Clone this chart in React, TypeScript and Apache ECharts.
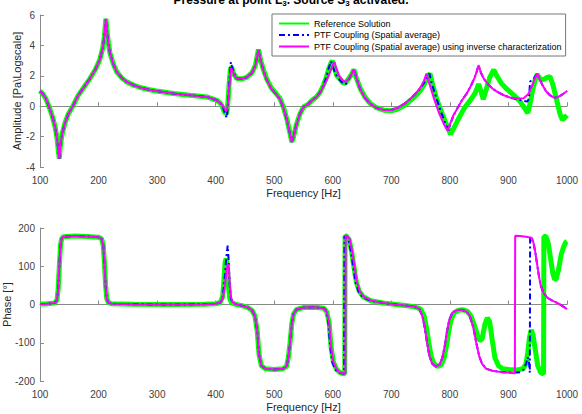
import React, { useEffect, useRef } from "react";
import * as echarts from "echarts";

// ---------- Amplitude (top) ----------
const ampSharedF = [100, 105, 110, 117, 122, 126, 129, 131.5, 133, 135, 138, 142.7, 148, 157, 165, 175, 185, 195, 202, 207, 210, 212.5, 214, 217, 219.5, 225, 231, 240, 248, 260, 271, 285, 299, 328, 356, 385, 402, 408];
const ampSharedV = [1.0, 0.8, 0.5, -0.2, -0.8, -1.4, -2.1, -3.0, -3.45, -2.5, -1.8, -1.1, -0.55, 0.07, 0.7, 1.25, 1.8, 2.45, 3.05, 3.8, 4.6, 5.75, 5.1, 4.1, 3.5, 2.8, 2.26, 1.85, 1.6, 1.38, 1.23, 1.1, 1.0, 0.83, 0.72, 0.61, 0.39, 0.2];

const ampRefF = [411, 414, 417, 419, 421, 423, 425, 427, 430, 436, 445, 453, 462, 468, 473, 477, 482, 487, 495, 503, 510, 516, 522, 527, 530, 533, 538, 544, 550, 557, 565, 572, 578, 584, 589, 593, 597, 599, 602, 607, 612, 617, 621, 627, 632, 636, 640, 647, 655, 664, 675, 687, 700, 710, 722, 733, 742, 750, 757, 763, 766, 770, 778, 786, 795, 801, 806, 815, 825, 835, 843, 849, 853, 857, 862, 868, 875, 880, 888, 898, 910, 920, 927, 933, 937, 941, 946, 949, 954, 960, 966, 971, 976, 983, 988, 992, 996, 1000];
const ampRefV = [0.0, -0.3, -0.5, -0.45, 0.3, 1.5, 2.4, 2.6, 2.2, 1.82, 1.8, 1.9, 2.2, 2.7, 3.73, 3.0, 2.35, 1.82, 1.2, 0.85, 0.5, -0.1, -0.9, -1.8, -2.35, -2.0, -1.2, -0.5, -0.05, 0.1, 0.4, 0.6, 0.9, 1.38, 1.9, 2.45, 2.85, 3.0, 2.6, 2.0, 1.8, 1.55, 1.5, 1.8, 2.1, 2.41, 1.9, 1.16, 0.6, 0.18, -0.1, -0.26, -0.3, -0.2, 0.05, 0.39, 0.7, 1.05, 1.5, 2.0, 2.15, 1.5, 0.4, -0.4, -1.3, -1.84, -1.5, -0.8, -0.1, 0.4, 0.85, 1.45, 1.0, 0.45, 1.1, 1.9, 2.4, 2.0, 1.5, 1.1, 0.7, 0.3, -0.1, -0.45, 0.2, 1.0, 1.8, 2.1, 1.8, 1.75, 1.9, 1.95, 1.4, 0.3, -0.5, -0.9, -0.75, -0.6];

const ampPtfF = [411, 414, 417, 419, 421, 424, 426, 428, 432, 436, 445, 453, 462, 468, 473, 477, 482, 487, 495, 503, 510, 516, 522, 527, 530, 533, 538, 544, 550, 557, 565, 572, 578, 584, 589, 593, 597, 600, 605, 612, 618, 622, 627, 632, 636, 640, 647, 655, 664, 675, 687, 700, 710, 722, 733, 742, 750, 757, 762, 765, 769, 778, 786, 793, 798, 800, 806, 812, 820, 829, 836, 842, 846, 849, 853, 858, 865, 873, 881, 892, 903, 915, 926, 932, 935, 937, 940, 944, 949, 953, 958, 964, 970, 977, 983, 989, 995, 1000];
const ampPtfV = [0.05, -0.25, -0.6, -0.75, 0.1, 2.0, 2.9, 2.6, 2.1, 1.82, 1.8, 1.9, 2.2, 2.7, 3.7, 3.0, 2.3, 1.75, 1.15, 0.8, 0.45, -0.15, -0.95, -1.85, -2.35, -2.0, -1.2, -0.5, -0.05, 0.1, 0.4, 0.6, 0.9, 1.35, 1.9, 2.5, 2.95, 2.6, 2.1, 1.7, 1.5, 1.45, 1.75, 2.1, 2.41, 1.9, 1.1, 0.55, 0.15, -0.12, -0.25, -0.25, -0.12, 0.15, 0.5, 0.85, 1.2, 1.6, 1.9, 2.15, 1.5, 0.4, -0.5, -1.2, -1.6, -1.3, -0.6, -0.2, 0.35, 0.85, 1.35, 1.85, 2.3, 2.7, 2.2, 1.8, 1.45, 1.15, 0.94, 0.72, 0.57, 0.45, 0.35, 0.3, 0.5, 1.6, 1.75, 1.85, 2.15, 1.8, 1.4, 1.0, 0.75, 0.57, 0.57, 0.7, 0.85, 1.0];

const ampInvF = [411, 414, 417, 419, 421, 424, 426, 428, 432, 436, 445, 453, 462, 468, 473, 477, 482, 487, 495, 503, 510, 516, 522, 527, 530, 533, 538, 544, 550, 557, 565, 572, 578, 584, 590, 595, 600, 603, 606, 611, 617, 622, 627, 632, 636, 640, 647, 655, 664, 675, 687, 700, 710, 722, 733, 742, 750, 756, 760, 764, 772, 782, 790, 796, 800, 806, 812, 820, 829, 836, 842, 846, 849, 853, 858, 865, 873, 881, 892, 903, 915, 926, 934, 940, 945, 949, 953, 958, 964, 970, 977, 983, 989, 995, 1000];
const ampInvV = [0.1, -0.1, -0.3, -0.3, 0.2, 1.6, 2.5, 2.4, 2.0, 1.82, 1.8, 1.9, 2.2, 2.7, 3.7, 3.0, 2.3, 1.75, 1.15, 0.8, 0.45, -0.15, -0.95, -1.85, -2.35, -2.0, -1.2, -0.5, -0.05, 0.1, 0.4, 0.6, 0.9, 1.3, 1.75, 2.2, 2.7, 2.9, 2.5, 2.0, 1.7, 1.6, 1.8, 2.1, 2.41, 1.9, 1.1, 0.55, 0.15, -0.12, -0.25, -0.25, -0.12, 0.15, 0.5, 0.85, 1.25, 1.7, 2.15, 1.6, 0.6, -0.5, -1.2, -1.6, -1.2, -0.6, -0.2, 0.35, 0.85, 1.35, 1.85, 2.3, 2.7, 2.2, 1.8, 1.45, 1.15, 0.94, 0.72, 0.57, 0.5, 0.52, 0.8, 1.3, 1.8, 2.15, 1.8, 1.4, 1.0, 0.75, 0.57, 0.57, 0.7, 0.85, 1.0];

// ---------- Phase (bottom) ----------
const phSharedF = [100, 110, 120, 126, 129, 131, 133, 135, 137, 140, 160, 180, 200, 205, 208, 210, 212, 214, 217, 222, 260, 320, 380, 400, 405];
const phSharedV = [1, 1.5, 3, 5, 12, 40, 100, 155, 172, 177, 179, 178, 176, 172, 155, 110, 50, 15, 5, 2, 0.5, 0, 0.5, 2, 4];

const phMidF = [435, 445, 455, 462, 467, 471, 474, 478, 485, 500, 515, 521, 524, 527, 530, 533, 538, 550, 570, 585];
const phMidV = [0, -3, -8, -15, -30, -70, -130, -160, -168, -170, -168, -162, -140, -100, -50, -25, -13, -8, -7, -10];

const phRefF = [408, 412, 414, 416, 418, 420, 422, 424, 427, ...phMidF, 590, 594, 597, 601, 606, 612, 619, 620.5, 621, 624, 628, 632, 636, 640, 645, 652, 665, 690, 720, 740, 750, 756, 760, 764, 768, 773, 779, 785, 790, 794, 798, 802, 807, 815, 823, 830, 836, 842, 847, 851, 855, 860, 864, 868, 872, 877, 883, 890, 900, 915, 925, 930, 933, 936, 939, 942, 946, 950, 955, 960, 960.5, 964, 968, 972, 976, 979, 982, 986, 990, 994, 998, 1000];
const phRefV = [6, 20, 60, 110, 120, 95, 45, 15, 5, ...phMidV, -20, -50, -110, -150, -168, -178, -181, -181, 180, 178, 170, 140, 100, 60, 35, 20, 10, 3, -2, -6, -12, -30, -60, -100, -135, -155, -162, -158, -140, -110, -70, -40, -22, -15, -14, -18, -30, -55, -80, -95, -90, -50, -35, -45, -90, -140, -160, -168, -170, -171, -168, -155, -125, -85, -66, -80, -120, -160, -178, -182, 178, 178, 160, 120, 80, 65, 68, 95, 130, 150, 163, 165];

const phPtfF = [408, 412, 415, 418, 420.5, 422, 424, 426, 429, ...phMidF, 588, 592, 595, 599, 604, 610, 619.5, 620, 623, 627, 631, 635, 639, 644, 651, 664, 690, 720, 738, 748, 753, 757, 761, 765, 770, 776, 782, 787, 791, 795, 799, 804, 812, 820, 828, 834, 840, 845, 850, 855, 862, 872, 890, 905, 915, 920, 926, 930, 933, 935, 936.5, 937, 940, 943, 946, 949, 952, 955, 960, 967, 975, 985, 993, 1000];
const phPtfV = [5, 20, 60, 120, 154, 120, 50, 15, 5, ...phMidV, -15, -40, -100, -150, -170, -178, -181, 178, 177, 168, 138, 98, 58, 34, 19, 10, 3, -2, -5, -12, -30, -60, -100, -135, -155, -162, -158, -140, -110, -70, -40, -22, -15, -14, -18, -30, -60, -100, -135, -155, -168, -173, -177, -178, -178, -177, -170, -155, -138, -150, -178, 175, 172, 160, 135, 105, 75, 50, 30, 17, 10, 3, -5, -12];

const phInvF = [408, 412, 415, 418, 420, 422, 424, 426, 429, ...phMidF, 590, 594, 597, 601, 606, 612, 620, 621.5, 622, 625, 629, 633, 637, 641, 646, 653, 666, 690, 720, 740, 748, 753, 757, 761, 765, 770, 776, 782, 787, 791, 795, 799, 804, 812, 820, 828, 834, 840, 845, 850, 855, 862, 872, 890, 905, 911, 911.5, 920, 930, 937, 940, 943, 946, 949, 952, 955, 960, 967, 975, 985, 993, 1000];
const phInvV = [5, 15, 40, 80, 100, 105, 60, 20, 6, ...phMidV, -20, -50, -110, -150, -168, -178, -181, -181, 180, 178, 170, 140, 100, 60, 35, 20, 10, 3, -2, -5, -12, -30, -60, -100, -135, -155, -162, -158, -140, -110, -70, -40, -22, -15, -14, -18, -30, -60, -100, -135, -155, -168, -173, -177, -179, -180, 180, 179, 177, 175, 174, 160, 135, 105, 75, 50, 30, 17, 10, 3, -5, -12];

const seriesNames = [
  "Reference Solution",
  "PTF Coupling (Spatial average)",
  "PTF Coupling (Spatial average) using inverse characterization",
];
const xTicks = { min: 100, max: 1000, interval: 100 };

const zip = (fs: number[], vs: number[]) => fs.map((f, i) => [f, vs[i]]);

export default function App() {
  const ref = useRef<HTMLDivElement>(null);
  useEffect(() => {
    if (!ref.current) return;
    const chart = echarts.init(ref.current, null, { renderer: "svg" });
    const font = "Liberation Sans, Arial, sans-serif";
    const axisCommon = {
      axisLine: { show: true, lineStyle: { color: "#8a8a8a", width: 1 } },
      axisTick: { show: true, inside: true, length: 4, lineStyle: { color: "#8a8a8a" } },
      axisLabel: { color: "#404040", fontSize: 10, fontFamily: font, formatter: (v: number) => String(v) },
      splitLine: { show: false },
      nameMoveOverlap: false,
      nameTextStyle: { color: "#262626", fontSize: 11, fontFamily: font },
    };
    const green = { color: "#00ff00", width: 5, type: "solid" };
    const blue = { color: "#0000ff", width: 2, type: [6, 3, 2, 3] };
    const magenta = { color: "#ff00ff", width: 2, type: "solid" };
    const mk = (name: string, data: any[], ls: any, idx: number) => ({
      name,
      type: "line",
      data,
      xAxisIndex: idx,
      yAxisIndex: idx,
      symbol: "none",
      showSymbol: false,
      lineStyle: ls,
      itemStyle: { color: ls.color },
      clip: true,
    });
    chart.setOption({
      animation: false,
      backgroundColor: "#ffffff",
      title: {
        text: "{a|Pressure at point L}{s|3}{a|. Source S}{s|3}{a| activated.}",
        left: "center",
        top: -13,
        textStyle: {
          rich: {
            a: { fontSize: 12, fontWeight: "bold", color: "#000", fontFamily: font },
            s: { fontSize: 8, fontWeight: "bold", color: "#000", fontFamily: font, padding: [7, 0, 0, 0] },
          },
        },
      },
      legend: {
        orient: "vertical",
        left: 272,
        top: 14,
        itemWidth: 30,
        itemHeight: 10,
        itemGap: 2.5,
        padding: [5, 4, 5, 6],
        backgroundColor: "#fff",
        borderColor: "#777",
        borderWidth: 1,
        borderRadius: 0,
        itemStyle: { opacity: 0 },
        textStyle: { fontSize: 9, color: "#000", fontFamily: font },
        data: seriesNames,
      },
      grid: [
        { left: 40, right: 15, top: 15, height: 152, containLabel: false, outerBoundsMode: "none" },
        { left: 40, right: 15, top: 228, height: 153, containLabel: false, outerBoundsMode: "none" },
      ],
      xAxis: [0, 1].map((i) => ({
        gridIndex: i,
        type: "value",
        ...xTicks,
        name: "Frequency [Hz]",
        nameLocation: "middle",
        nameGap: 20,
        ...axisCommon,
      })),
      yAxis: [
        {
          gridIndex: 0,
          type: "value",
          min: -4,
          max: 6,
          interval: 2,
          name: "Amplitude [Pa\\Logscale]",
          nameLocation: "middle",
          nameGap: 18,
          ...axisCommon,
          axisLabel: { ...axisCommon.axisLabel, margin: 5 },
        },
        {
          gridIndex: 1,
          type: "value",
          min: -200,
          max: 200,
          interval: 100,
          name: "Phase [°]",
          nameLocation: "middle",
          nameGap: 28,
          ...axisCommon,
          axisLabel: { ...axisCommon.axisLabel, margin: 5 },
        },
      ],
      series: [
        mk(seriesNames[0], zip([...ampSharedF, ...ampRefF], [...ampSharedV, ...ampRefV]), green, 0),
        mk(seriesNames[1], zip([...ampSharedF, ...ampPtfF], [...ampSharedV, ...ampPtfV]), blue, 0),
        mk(seriesNames[2], zip([...ampSharedF, ...ampInvF], [...ampSharedV, ...ampInvV]), magenta, 0),
        mk(seriesNames[0], zip([...phSharedF, ...phRefF], [...phSharedV, ...phRefV]), green, 1),
        mk(seriesNames[1], zip([...phSharedF, ...phPtfF], [...phSharedV, ...phPtfV]), blue, 1),
        mk(seriesNames[2], zip([...phSharedF, ...phInvF], [...phSharedV, ...phInvV]), magenta, 1),
      ],
    });
    return () => chart.dispose();
  }, []);
  return <div ref={ref} style={{ width: 582, height: 414, position: "absolute", left: 0, top: 0 }} />;
}
